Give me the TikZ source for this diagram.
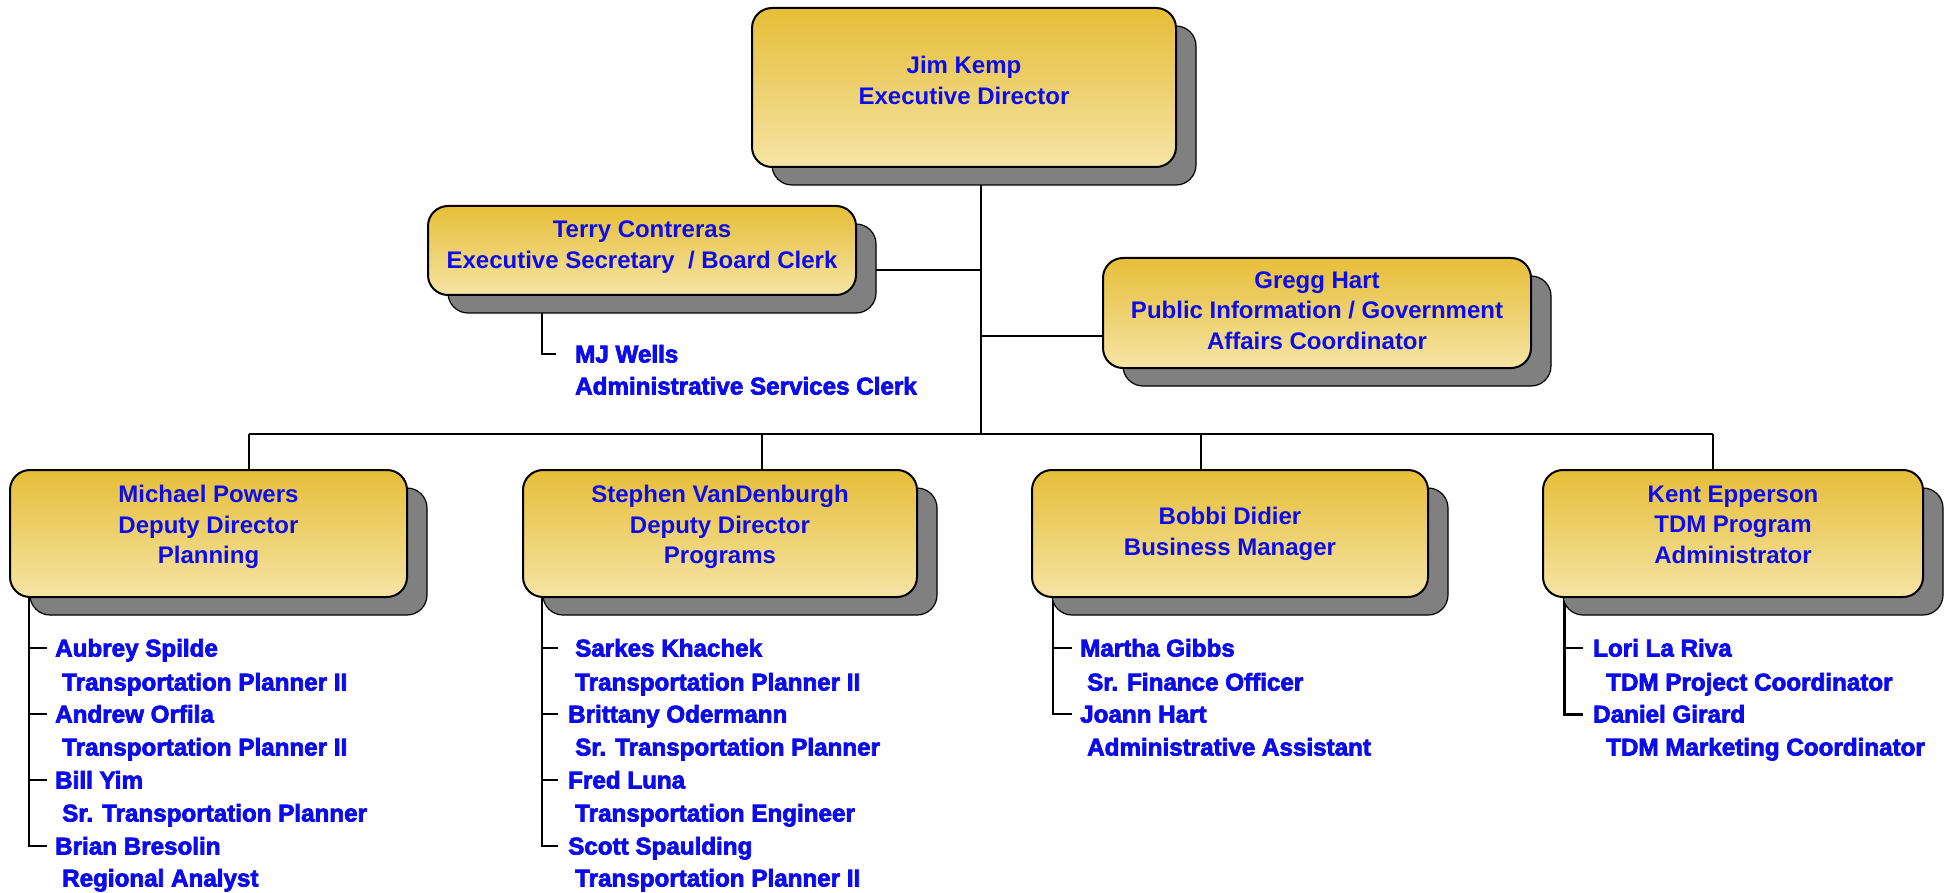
\documentclass[tikz,border=0pt]{standalone}
\usepackage{fontspec}
\setmainfont{Liberation Sans}
\newfontfamily\listfamily{Liberation Sans}[BoldFeatures={FakeBold=3}]
\usetikzlibrary{shadows,backgrounds}

\definecolor{goldtop}{RGB}{230,190,56}
\definecolor{goldbot}{RGB}{245,228,165}
\definecolor{shadowgray}{RGB}{128,128,128}
\definecolor{nameblue}{RGB}{12,12,235}

\newcommand\boxfont{\fontsize{24}{30.5}\selectfont\bfseries}
\newcommand\stafffont{\listfamily\bfseries\fontsize{24.2}{33}\selectfont}

\tikzset{
  obox/.style={draw=black, line width=2pt, rounded corners=20pt,
    top color=goldtop, bottom color=goldbot, text=nameblue,
    align=center, inner sep=0pt, font=\boxfont,
    drop shadow={shadow xshift=20pt, shadow yshift=-18pt,
      fill=shadowgray, draw=black, line width=1.2pt, opacity=1}},
  lst/.style={anchor=base west, inner sep=0pt, text height=17pt,
    text depth=0pt, text=nameblue, font=\stafffont},
  link/.style={draw=black, line width=2pt},
}

\begin{document}
\begin{tikzpicture}[x=1pt,y=-1pt]
\useasboundingbox (0,0) rectangle (1952,893);

% ---- boxes ----
\node[obox, minimum width=424pt, minimum height=159pt, text depth=14pt]
  (kemp) at (964,87.5) {Jim Kemp\\Executive Director};
\node[obox, minimum width=428pt, minimum height=89pt, text depth=12pt]
  (terry) at (642,250.5) {Terry Contreras\\Executive Secretary\ \ / Board Clerk};
\node[obox, minimum width=428pt, minimum height=110pt, text depth=5pt]
  (gregg) at (1317,313) {Gregg Hart\\Public Information / Government\\Affairs Coordinator};
\node[obox, minimum width=397pt, minimum height=127pt, text depth=18pt]
  (powers) at (208.5,533.5) {Michael Powers\\Deputy Director\\Planning};
\node[obox, minimum width=394pt, minimum height=127pt, text depth=18pt]
  (vdb) at (720,533.5) {Stephen VanDenburgh\\Deputy Director\\Programs};
\node[obox, minimum width=396pt, minimum height=127pt, text depth=4pt]
  (didier) at (1230,533.5) {Bobbi Didier\\Business Manager};
\node[obox, minimum width=380pt, minimum height=127pt, text depth=18pt]
  (epperson) at (1733,533.5) {Kent Epperson\\TDM Program\\Administrator};

% ---- staff lists ----
\node[lst] (mj)  at (575,362.5) {MJ Wells};
\node[lst] (mjT) at (575,394.5) {Administrative Services Clerk};

\node[lst] (aubrey)  at (55,656.5) {Aubrey Spilde};
\node[lst] (aubreyT) at (62,690.5) {Transportation Planner II};
\node[lst] (andrew)  at (55,722.5) {Andrew Orfila};
\node[lst] (andrewT) at (62,755.5) {Transportation Planner II};
\node[lst] (bill)    at (55,788.5) {Bill Yim};
\node[lst] (billT)   at (62,821.5) {Sr. Transportation Planner};
\node[lst] (brian)   at (55,854.5) {Brian Bresolin};
\node[lst] (brianT)  at (62,886.5) {Regional Analyst};

\node[lst] (sarkes)    at (575,656.5) {Sarkes Khachek};
\node[lst] (sarkesT)   at (575,690.5) {Transportation Planner II};
\node[lst] (brittany)  at (568,722.5) {Brittany Odermann};
\node[lst] (brittanyT) at (575,755.5) {Sr. Transportation Planner};
\node[lst] (fred)      at (568,788.5) {Fred Luna};
\node[lst] (fredT)     at (575,821.5) {Transportation Engineer};
\node[lst] (scott)     at (568,854.5) {Scott Spaulding};
\node[lst] (scottT)    at (575,886.5) {Transportation Planner II};

\node[lst] (martha)  at (1080,656.5) {Martha Gibbs};
\node[lst] (marthaT) at (1087,690.5) {Sr. Finance Officer};
\node[lst] (joann)   at (1080,722.5) {Joann Hart};
\node[lst] (joannT)  at (1087,755.5) {Administrative Assistant};

\node[lst] (lori)    at (1593,656.5) {Lori La Riva};
\node[lst] (loriT)   at (1606,690.5) {TDM Project Coordinator};
\node[lst] (daniel)  at (1593,722.5) {Daniel Girard};
\node[lst] (danielT) at (1606,755.5) {TDM Marketing Coordinator};

% ---- connectors (behind the boxes and their shadows) ----
\coordinate (trunk) at (981,167);
\coordinate (hub)   at (981,434);
\coordinate (tT)    at (981,270);
\coordinate (tG)    at (981,336);
\coordinate (dP) at (249,434);
\coordinate (dV) at (762,434);
\coordinate (dD) at (1201,434);
\coordinate (dE) at (1713,434);
\coordinate (spT) at (542,295);
\coordinate (spP) at (29,597);
\coordinate (spV) at (542,597);
\coordinate (spD) at (1053,597);
\coordinate (spE) at (1564,597);

\begin{scope}[on background layer]
  \draw[link] (trunk) -- (hub);
  \draw[link] (terry.east |- tT) -- (tT);
  \draw[link] (tG) -- (gregg.west |- tG);
  \draw[link] (dP) -- (dE);
  \draw[link] (dP) -- (dP |- powers.north);
  \draw[link] (dV) -- (dV |- vdb.north);
  \draw[link] (dD) -- (dD |- didier.north);
  \draw[link] (dE) -- (dE |- epperson.north);

  \draw[link] (spT) |- ([xshift=-19pt]mj.west);

  \draw[link] (spP) |- ([xshift=-8pt]brian.west);
  \draw[link] (spP |- aubrey.west) -- ([xshift=-8pt]aubrey.west);
  \draw[link] (spP |- andrew.west) -- ([xshift=-8pt]andrew.west);
  \draw[link] (spP |- bill.west) -- ([xshift=-8pt]bill.west);

  \draw[link] (spV) |- ([xshift=-10pt]scott.west);
  \draw[link] (spV |- sarkes.west) -- ([xshift=-17pt]sarkes.west);
  \draw[link] (spV |- brittany.west) -- ([xshift=-10pt]brittany.west);
  \draw[link] (spV |- fred.west) -- ([xshift=-10pt]fred.west);

  \draw[link] (spD) |- ([xshift=-8pt]joann.west);
  \draw[link] (spD |- martha.west) -- ([xshift=-8pt]martha.west);

  \draw[link, line width=3pt] (spE) |- ([xshift=-10pt]daniel.west);
  \draw[link] (spE |- lori.west) -- ([xshift=-10pt]lori.west);
\end{scope}
\end{tikzpicture}
\end{document}
